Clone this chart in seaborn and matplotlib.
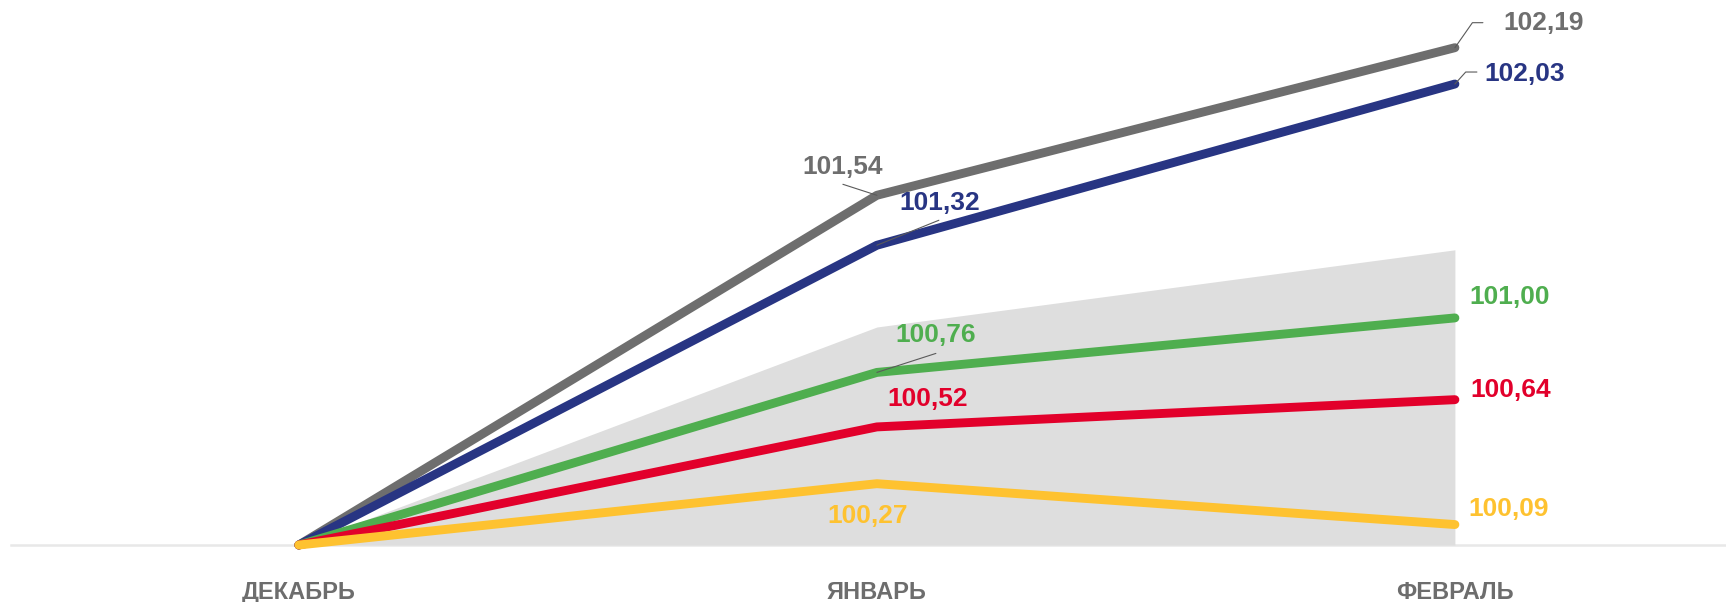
import pandas as pd
import seaborn as sns
import matplotlib
matplotlib.use("Agg")
import matplotlib.pyplot as plt

# data
months = ['ДЕКАБРЬ', 'ЯНВАРЬ', 'ФЕВРАЛЬ']
gray_vals = [100.0, 101.54, 102.19]
blue_vals = [100.0, 101.32, 102.03]
green_vals = [100.0, 100.76, 101.00]
red_vals = [100.0, 100.52, 100.64]
yellow_vals = [100.0, 100.27, 100.09]
band_upper = [100.0, 100.96, 101.30]

series_names = ['gray', 'blue', 'green', 'red', 'yellow']
series_vals = [gray_vals, blue_vals, green_vals, red_vals, yellow_vals]
colors = {'gray': '#6e6e6e', 'blue': '#283583', 'green': '#4fae4f',
          'red': '#e2002b', 'yellow': '#fec230'}

rows = []
for name, vals in zip(series_names, series_vals):
    for i, v in enumerate(vals):
        rows.append({'pos': i, 'value': v, 'series': name})
df = pd.DataFrame(rows)

sns.set_theme(style="white")
plt.rcParams['font.family'] = ['Liberation Sans', 'DejaVu Sans']

fig = plt.figure(figsize=(17.26, 6.02), dpi=100)
ax = fig.add_axes([11 / 1726, 57 / 602, 1 - 11 / 1726, 545 / 602])

ax.fill_between(range(len(months)), 100, band_upper, color='#dedede', lw=0, zorder=1)

sns.lineplot(data=df, x='pos', y='value', hue='series', hue_order=series_names,
             palette=colors, linewidth=6.4, legend=False, ax=ax, zorder=3)
for ln in ax.get_lines():
    ln.set_solid_capstyle('round')
    ln.set_solid_joinstyle('round')
    ln.set_clip_on(False)

ax.set_xlim(-0.498, 2.469)
ax.set_ylim(100, 102.40)
ax.set_xlabel(None)
ax.set_ylabel(None)
ax.set_yticks([])
ax.set_xticks(range(len(months)), months)
ax.tick_params(axis='x', length=0, pad=26, labelsize=17, labelcolor='#6d6d6d')
for lbl in ax.get_xticklabels():
    lbl.set_fontweight('bold')
for s in ['top', 'left', 'right']:
    ax.spines[s].set_visible(False)
ax.spines['bottom'].set_color('#e8e8e8')
ax.spines['bottom'].set_linewidth(1.8)
ax.spines['bottom'].set_zorder(0)

px = 0.72  # pixels -> points at 100 dpi
# (series, month index, text offset in px)
labels = [
    ('gray', 2, 89, 25), ('blue', 2, 70, 10),
    ('gray', 1, -34, 28), ('blue', 1, 63, 42),
    ('green', 1, 59, 37), ('red', 1, 51, 28), ('yellow', 1, -9, -32),
    ('green', 2, 55, 21), ('red', 2, 56, 10), ('yellow', 2, 54, 16),
]
vals_by_name = dict(zip(series_names, series_vals))
for name, i, dx, dy in labels:
    v = vals_by_name[name][i]
    ax.annotate(f'{v:.2f}'.replace('.', ','), xy=(i, v), xytext=(dx * px, dy * px),
                textcoords='offset points', ha='center', va='center',
                fontsize=19, fontweight='bold', color=colors[name], zorder=5)

# leader lines: (series, month, start offset px, connection style)
leaders = [
    ('gray', 2, 28, 25, 'angle,angleA=0,angleB=55,rad=0'),
    ('blue', 2, 22, 12, 'angle,angleA=0,angleB=48,rad=0'),
    ('gray', 1, -34, 11, 'arc3'),
    ('blue', 1, 62, 25, 'arc3'),
    ('green', 1, 59, 19, 'arc3'),
]
for name, i, dx, dy, cs in leaders:
    v = vals_by_name[name][i]
    ax.annotate('', xy=(i, v), xytext=(dx * px, dy * px), textcoords='offset points',
                arrowprops=dict(arrowstyle='-', color='#5a5a5a', lw=0.8,
                                shrinkA=0, shrinkB=0, connectionstyle=cs),
                zorder=6)

fig.savefig('out.png', dpi=100, facecolor='white')
